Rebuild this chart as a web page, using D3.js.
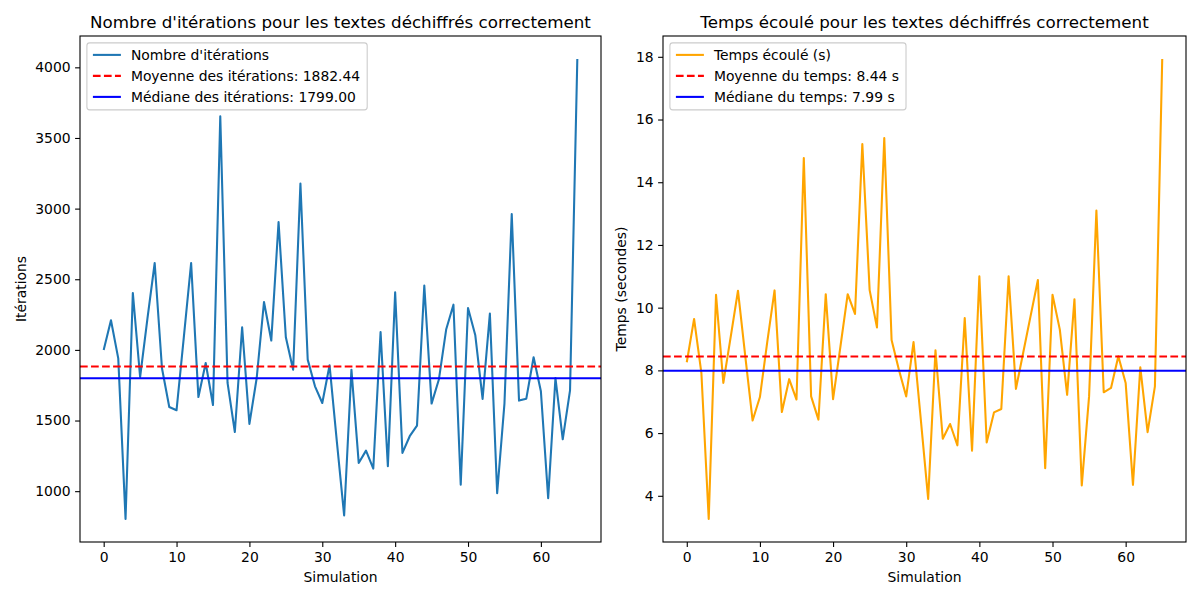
<!DOCTYPE html>
<html>
<head>
<meta charset="utf-8">
<script src="https://cdn.jsdelivr.net/npm/d3@7"></script>
<style>
  body { margin: 0; background: #fff; }
  svg text { font-family: "DejaVu Sans", sans-serif; fill: #000; }
</style>
</head>
<body>
<svg id="chart" width="1200" height="600"></svg>
<script>
// ---- Data ----
const iterations = [2000, 2210, 1940, 803, 2403, 1808, 2220, 2615, 1870, 1596,
  1573, 2090, 2615, 1666, 1907, 1610, 3653, 1766, 1419, 2160,
  1476, 1801, 2339, 2066, 2905, 2089, 1860, 3177, 1931, 1742,
  1624, 1891, 1350, 828, 1860, 1200, 1287, 1160, 2127, 1176,
  2408, 1271, 1389, 1464, 2455, 1620, 1790, 2144, 2320, 1046,
  2297, 2103, 1653, 2257, 985, 1620, 2962, 1641, 1655, 1948,
  1707, 950, 1801, 1367, 1714, 4059];
const times = [8.26, 9.64, 7.91, 3.26, 10.41, 7.6, 9.06, 10.54, 8.45, 6.4,
  7.15, 8.9, 10.55, 6.67, 7.72, 7.07, 14.77, 7.17, 6.43, 10.43,
  7.08, 8.75, 10.43, 9.8, 15.22, 10.56, 9.37, 15.41, 8.97, 8.02,
  7.17, 8.9, 6.42, 3.9, 8.64, 5.82, 6.29, 5.61, 9.67, 5.44,
  11.0, 5.7, 6.66, 6.77, 11.0, 7.41, 8.57, 9.73, 10.88, 4.88,
  10.41, 9.3, 7.22, 10.27, 4.33, 7.17, 13.1, 7.3, 7.44, 8.45,
  7.6, 4.35, 8.1, 6.03, 7.49, 17.93];
const iterMean = 1882.44, iterMedian = 1799.00;
const timeMean = 8.44, timeMedian = 7.99;
const xTicks = [0, 10, 20, 30, 40, 50, 60];
const iterTicks = [1000, 1500, 2000, 2500, 3000, 3500, 4000];
const timeTicks = [4, 6, 8, 10, 12, 14, 16, 18];
const titles = ["Nombre d'itérations pour les textes déchiffrés correctement",
                "Temps écoulé pour les textes déchiffrés correctement"];
const yLabels = ["Itérations", "Temps (secondes)"];
const xLabel = "Simulation";
const legendIter = ["Nombre d'itérations", "Moyenne des itérations: 1882.44", "Médiane des itérations: 1799.00"];
const legendTime = ["Temps écoulé (s)", "Moyenne du temps: 8.44 s", "Médiane du temps: 7.99 s"];

const svg = d3.select("#chart");
const FS = 13.9;

function panel(opts) {
  const {x0, x1, y0, y1, data, color, mean, median, yTicks, title, yLabel, legend, yLabelX, tickFmt} = opts;
  const g = svg.append("g");
  const n = data.length;
  const xs = d3.scaleLinear().domain([-(n - 1) * 0.05, (n - 1) * 1.05]).range([x0, x1]);
  const mn = d3.min(data), mx = d3.max(data), pad = (mx - mn) * 0.05;
  const ys = d3.scaleLinear().domain([mn - pad, mx + pad]).range([y1, y0]);

  const clipId = "clip" + Math.round(x0);
  svg.append("clipPath").attr("id", clipId).append("rect")
    .attr("x", x0).attr("y", y0).attr("width", x1 - x0).attr("height", y1 - y0);

  const plot = g.append("g").attr("clip-path", `url(#${clipId})`);
  plot.append("path").datum(data)
    .attr("fill", "none").attr("stroke", color).attr("stroke-width", 2.08)
    .attr("stroke-linejoin", "round")
    .attr("d", d3.line().x((d, i) => xs(i)).y(d => ys(d)));
  plot.append("line").attr("x1", x0).attr("x2", x1).attr("y1", ys(mean)).attr("y2", ys(mean))
    .attr("stroke", "red").attr("stroke-width", 2.08).attr("stroke-dasharray", "7.7,3.33");
  plot.append("line").attr("x1", x0).attr("x2", x1).attr("y1", ys(median)).attr("y2", ys(median))
    .attr("stroke", "blue").attr("stroke-width", 2.08);

  const xAxis = d3.axisBottom(xs).tickValues(xTicks).tickSize(4.9).tickPadding(5).tickFormat(d3.format("d"));
  const gx = g.append("g").attr("transform", `translate(0,${y1})`).call(xAxis);
  const yAxis = d3.axisLeft(ys).tickValues(yTicks).tickSize(4.9).tickPadding(4.5).tickFormat(tickFmt);
  const gy = g.append("g").attr("transform", `translate(${x0},0)`).call(yAxis);
  [gx, gy].forEach(a => {
    a.select(".domain").remove();
    a.selectAll(".tick line").attr("stroke", "#000").attr("stroke-width", 1.1);
    a.selectAll(".tick text").attr("font-size", FS).attr("font-family", "DejaVu Sans").attr("fill", "#000");
  });

  g.append("rect").attr("x", x0).attr("y", y0).attr("width", x1 - x0).attr("height", y1 - y0)
    .attr("fill", "none").attr("stroke", "#000").attr("stroke-width", 1.1);

  g.append("text").attr("x", (x0 + x1) / 2).attr("y", 28).attr("text-anchor", "middle")
    .attr("font-size", 16.7).text(title);
  g.append("text").attr("x", (x0 + x1) / 2).attr("y", 582).attr("text-anchor", "middle")
    .attr("font-size", FS).text(xLabel);
  g.append("text").attr("transform", `translate(${yLabelX},${(y0 + y1) / 2}) rotate(-90)`)
    .attr("text-anchor", "middle").attr("font-size", FS).text(yLabel);

  const lg = g.append("g");
  const lx = x0 + 6.9, ly = y0 + 6.9;
  const rowH = 21;
  const frame = lg.append("rect").attr("x", lx).attr("y", ly).attr("rx", 2.8).attr("ry", 2.8)
    .attr("fill", "white").attr("fill-opacity", 0.8).attr("stroke", "#cccccc").attr("stroke-width", 1.1);
  const styles = [{c: color, dash: null}, {c: "red", dash: "7.7,3.33"}, {c: "blue", dash: null}];
  let maxW = 0;
  legend.forEach((t, i) => {
    const cy = ly + 12 + i * rowH;
    const ln = lg.append("line").attr("x1", lx + 6).attr("x2", lx + 34).attr("y1", cy).attr("y2", cy)
      .attr("stroke", styles[i].c).attr("stroke-width", 2.08);
    if (styles[i].dash) ln.attr("stroke-dasharray", styles[i].dash);
    const tx = lg.append("text").attr("x", lx + 44).attr("y", cy + 5).attr("font-size", FS).text(t);
    maxW = Math.max(maxW, tx.node().getComputedTextLength());
  });
  frame.attr("width", 44 + maxW + 7).attr("height", 3 * rowH + 4);
}

panel({x0: 80, x1: 601, y0: 36, y1: 542, data: iterations, color: "#1f77b4",
  mean: iterMean, median: iterMedian, yTicks: iterTicks, title: titles[0], yLabel: yLabels[0],
  legend: legendIter, yLabelX: 26, tickFmt: d3.format("d")});
panel({x0: 663, x1: 1186, y0: 36, y1: 542, data: times, color: "orange",
  mean: timeMean, median: timeMedian, yTicks: timeTicks, title: titles[1], yLabel: yLabels[1],
  legend: legendTime, yLabelX: 626, tickFmt: d3.format("d")});
</script>
</body>
</html>
